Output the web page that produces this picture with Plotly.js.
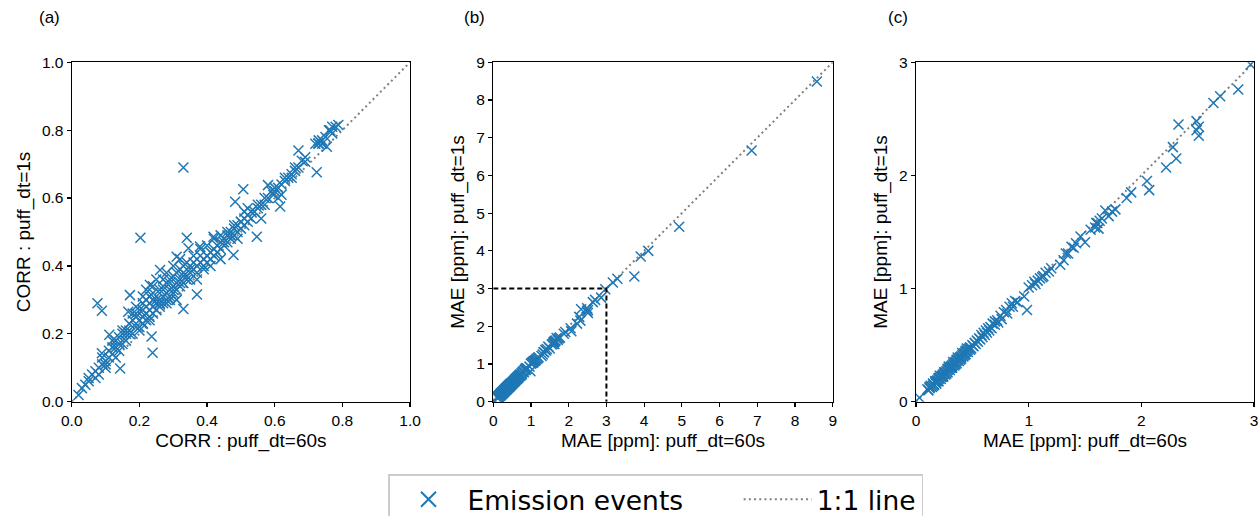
<!DOCTYPE html>
<html>
<head>
<meta charset="utf-8">
<script src="https://cdn.plot.ly/plotly-3.0.1.min.js"></script>
<style>html,body{margin:0;padding:0;background:#fff;}#chart{width:1259px;height:516px;}</style>
</head>
<body>
<div id="chart"></div>
<script>
// ---- Panel (a): CORR values ----
const corrX = [0.02,0.03,0.04,0.05,0.05,0.06,0.07,0.07,0.08,0.08,0.09,0.09,0.10,0.10,0.11,0.11,0.12,0.12,0.13,0.13,0.14,0.14,0.15,0.15,0.16,0.16,
  0.076,0.089,0.203,0.33,0.239,0.34,0.31,0.172,0.167,0.111,0.143,0.089,0.724,0.67,0.547,0.507,0.483,0.616,0.478,0.37,0.33,0.236,0.261,0.231,0.419,0.788,0.764,0.754,0.729,0.69,0.58,0.596,0.345,0.379,
  0.17,0.17,0.18,0.18,0.19,0.19,0.20,0.20,0.20,0.21,0.21,0.21,0.22,0.22,0.22,0.23,0.23,0.23,0.24,0.24,0.24,0.25,0.25,0.25,0.26,0.26,0.26,0.27,0.27,0.27,0.28,0.28,0.28,0.29,0.29,0.29,0.30,0.30,0.30,0.31,0.31,0.31,0.32,0.32,0.32,0.33,0.33,0.33,0.34,0.34,0.35,0.35,0.35,
  0.36,0.36,0.37,0.37,0.38,0.38,0.39,0.39,0.40,0.40,0.41,0.41,0.42,0.42,0.43,0.43,0.44,0.44,0.45,0.45,0.46,0.46,0.47,0.47,0.48,0.48,0.49,0.49,0.50,0.50,0.51,0.51,0.52,0.52,0.53,0.54,0.55,0.55,
  0.56,0.57,0.58,0.59,0.60,0.60,0.61,0.62,0.63,0.63,0.64,0.65,0.66,0.66,0.67,0.68,0.69,0.72,0.73,0.73,0.74,0.74,0.75,0.76,0.77,0.78,0.77,
  0.12,0.15,0.18,0.19,0.21,0.22,0.24,0.25,0.27,0.28,0.30,0.32,0.36,0.38,0.40,0.42,0.44,0.46,0.48,0.50,0.52,0.20,0.23,0.26,0.29,0.34,0.39,0.44,0.47,0.53,0.57,0.62,0.65,0.10,0.14,0.17,0.21,0.24,0.28,0.31,0.37,0.41,0.45,0.49,0.51,0.56,0.61,
  0.19,0.22,0.25,0.27,0.30,0.33,0.35,0.21,0.24,0.26,0.29,0.32,0.13,0.16];
const corrY = [0.02,0.04,0.05,0.07,0.06,0.08,0.07,0.09,0.10,0.08,0.11,0.13,0.12,0.10,0.13,0.15,0.14,0.16,0.16,0.13,0.17,0.19,0.17,0.20,0.18,0.21,
  0.29,0.268,0.483,0.69,0.144,0.483,0.427,0.314,0.265,0.197,0.098,0.143,0.676,0.74,0.486,0.626,0.589,0.575,0.432,0.316,0.273,0.192,0.388,0.344,0.486,0.815,0.80,0.751,0.761,0.707,0.638,0.609,0.452,0.457,
  0.21,0.23,0.20,0.24,0.22,0.26,0.24,0.27,0.22,0.25,0.29,0.23,0.26,0.30,0.24,0.27,0.31,0.25,0.28,0.32,0.26,0.29,0.30,0.27,0.30,0.33,0.28,0.31,0.34,0.29,0.32,0.35,0.30,0.33,0.36,0.31,0.34,0.37,0.32,0.35,0.38,0.33,0.36,0.39,0.34,0.37,0.40,0.35,0.37,0.41,0.38,0.40,0.36,
  0.39,0.41,0.40,0.38,0.41,0.43,0.42,0.40,0.43,0.41,0.44,0.42,0.45,0.43,0.46,0.44,0.47,0.45,0.48,0.46,0.49,0.47,0.50,0.48,0.51,0.49,0.52,0.50,0.53,0.51,0.54,0.52,0.55,0.53,0.56,0.56,0.57,0.58,
  0.58,0.60,0.60,0.62,0.62,0.63,0.63,0.64,0.65,0.66,0.66,0.67,0.68,0.69,0.69,0.71,0.72,0.76,0.76,0.77,0.76,0.77,0.78,0.80,0.81,0.81,0.79,
  0.18,0.21,0.26,0.28,0.31,0.33,0.34,0.36,0.36,0.38,0.40,0.42,0.43,0.45,0.46,0.48,0.49,0.50,0.52,0.53,0.57,0.21,0.24,0.29,0.30,0.36,0.39,0.42,0.49,0.54,0.58,0.61,0.66,0.11,0.15,0.20,0.23,0.30,0.29,0.30,0.36,0.40,0.47,0.48,0.56,0.54,0.60,
  0.25,0.28,0.27,0.33,0.33,0.38,0.39,0.27,0.30,0.29,0.35,0.35,0.18,0.20];

// ---- Panels (b) and (c): MAE values [ppm] ----
const maeX = [0.03,0.10,0.11,0.12,0.13,0.14,0.15,0.16,0.17,0.18,0.18,0.19,0.20,0.20,0.21,0.22,0.22,0.23,0.24,0.24,0.25,0.26,0.26,0.27,0.28,0.28,0.29,0.30,0.30,0.31,0.32,0.32,0.33,0.34,0.34,0.35,0.36,0.36,0.37,0.38,0.38,0.39,0.40,0.40,0.41,0.42,0.42,0.43,0.44,0.44,0.45,0.46,0.46,0.47,0.48,0.49,0.50,0.51,0.52,0.53,0.54,0.55,0.56,0.57,0.58,0.59,0.60,0.61,0.62,0.63,0.64,0.65,0.66,0.67,0.68,0.70,0.70,0.72,0.73,0.75,0.76,0.78,0.80,0.81,0.83,0.85,0.86,0.88,0.90,0.96,0.985,1.00,1.03,1.05,1.06,1.08,1.10,1.12,1.13,1.15,1.18,1.20,1.28,1.31,1.33,1.35,1.38,1.40,1.42,1.46,1.50,1.55,1.59,1.60,1.61,1.62,1.63,1.65,1.68,1.71,1.74,1.77,1.87,1.91,2.05,2.07,2.22,2.28,2.31,2.33,2.49,2.51,2.49,2.51,2.64,2.70,2.86,2.97,3.17,3.29,3.74,3.91,4.11,4.93,6.85,8.58,
  0.12,0.15,0.17,0.19,0.21,0.23,0.25,0.27,0.29,0.31,0.33,0.35,0.37,0.39,0.41,0.43,0.45,0.16,0.20,0.24,0.28,0.32,0.36,0.40,0.44,0.48];
const maeY = [0.035,0.11,0.10,0.12,0.14,0.13,0.16,0.15,0.17,0.18,0.16,0.19,0.20,0.18,0.21,0.22,0.20,0.23,0.24,0.22,0.25,0.26,0.24,0.27,0.28,0.26,0.29,0.30,0.28,0.31,0.32,0.30,0.33,0.34,0.32,0.35,0.36,0.34,0.37,0.38,0.36,0.39,0.40,0.38,0.41,0.42,0.40,0.43,0.44,0.42,0.45,0.46,0.44,0.47,0.48,0.47,0.50,0.49,0.52,0.51,0.54,0.53,0.56,0.55,0.59,0.57,0.61,0.59,0.63,0.61,0.65,0.63,0.66,0.65,0.69,0.71,0.68,0.72,0.70,0.76,0.73,0.79,0.81,0.78,0.84,0.87,0.84,0.89,0.88,0.93,0.81,1.01,1.03,1.06,1.04,1.07,1.09,1.10,1.11,1.14,1.15,1.18,1.21,1.25,1.31,1.31,1.37,1.36,1.40,1.46,1.41,1.52,1.54,1.58,1.58,1.53,1.60,1.62,1.69,1.64,1.68,1.70,1.80,1.85,1.95,1.87,2.07,2.25,2.15,2.45,2.48,2.43,2.40,2.35,2.64,2.70,2.76,2.98,3.16,3.26,3.32,3.85,4.00,4.64,6.66,8.49,
  0.13,0.14,0.18,0.18,0.23,0.22,0.26,0.25,0.31,0.30,0.35,0.33,0.39,0.37,0.43,0.41,0.47,0.15,0.21,0.23,0.29,0.31,0.37,0.39,0.45,0.46];

// 1:1 reference lines and the dashed 3 ppm box
const oneA = [0, 1];
const oneB = [0, 9];
const oneC = [0, 3];
const boxX = [0, 3, 3];
const boxY = [3, 3, 0];
const legendNames = ['Emission events', '1:1 line'];

const blue = '#1f77b4';
const mk = {symbol: 'x-thin-open', size: 10, color: blue, line: {color: blue, width: 1.5}};
const dotLine = {color: '#808080', width: 2, dash: '2px,3.2px'};
const NB = '\u00a0';

const traces = [
  {x: oneA, y: oneA, xaxis: 'x', yaxis: 'y', mode: 'lines', line: dotLine, showlegend: false},
  {x: oneB, y: oneB, xaxis: 'x2', yaxis: 'y2', mode: 'lines', line: dotLine, showlegend: false},
  {x: oneC, y: oneC, xaxis: 'x3', yaxis: 'y3', mode: 'lines', line: dotLine, showlegend: false},
  {x: corrX, y: corrY, xaxis: 'x', yaxis: 'y', mode: 'markers', marker: mk, showlegend: false},
  {x: maeX, y: maeY, xaxis: 'x2', yaxis: 'y2', mode: 'markers', marker: mk, showlegend: false},
  {x: maeX, y: maeY, xaxis: 'x3', yaxis: 'y3', mode: 'markers', marker: mk, showlegend: false},
  {x: boxX, y: boxY, xaxis: 'x2', yaxis: 'y2', mode: 'lines', line: {color: '#000', width: 2, dash: '5px,3px'}, showlegend: false},
  // legend-only entries (no data drawn)
  {x: [null], y: [null], xaxis: 'x', yaxis: 'y', mode: 'markers',
   marker: {symbol: 'x-thin-open', size: 15, color: blue, line: {color: blue, width: 2}},
   name: legendNames[0] + NB.repeat(6), showlegend: true},
  {x: [null], y: [null], xaxis: 'x', yaxis: 'y', mode: 'lines', line: dotLine, name: legendNames[1], showlegend: true}
];

const font = 'Liberation Sans, Arial, sans-serif';
function ax(domain, range, dtick, fmt, title, anchor) {
  return {
    domain: domain, range: range, dtick: dtick, tick0: 0, tickformat: fmt,
    showgrid: false, zeroline: false, showline: true, mirror: true,
    linecolor: '#000', linewidth: 1.2, ticks: 'outside', ticklen: 4, tickwidth: 1.2, tickcolor: '#000',
    tickfont: {family: font, size: 15.5, color: '#000'},
    title: {text: title, font: {family: font, size: 19, color: '#000'}, standoff: 6},
    anchor: anchor, fixedrange: true, automargin: false
  };
}
const yd = [0.2215, 0.8793];
const layout = {
  width: 1259, height: 516,
  margin: {l: 0, r: 0, t: 0, b: 0, autoexpand: false},
  paper_bgcolor: '#fff', plot_bgcolor: '#fff',
  xaxis: ax([0.057, 0.3257], [0, 1], 0.2, '.1f', 'CORR : puff_dt=60s', 'y'),
  yaxis: ax(yd, [0, 1], 0.2, '.1f', 'CORR : puff_dt=1s', 'x'),
  xaxis2: ax([0.3918, 0.6614], [0, 9], 1, 'd', 'MAE [ppm]: puff_dt=60s', 'y2'),
  yaxis2: ax(yd, [0, 9], 1, 'd', 'MAE [ppm]: puff_dt=1s', 'x2'),
  xaxis3: ax([0.7276, 0.996], [0, 3], 1, 'd', 'MAE [ppm]: puff_dt=60s', 'y3'),
  yaxis3: ax(yd, [0, 3], 1, 'd', 'MAE [ppm]: puff_dt=1s', 'x3'),
  showlegend: true,
  legend: {
    orientation: 'h', x: 388/1259, xanchor: 'left', y: 1 - 474/516, yanchor: 'top',
    bordercolor: '#cccccc', borderwidth: 1.5, bgcolor: '#fff',
    font: {family: 'DejaVu Sans, sans-serif', size: 26.5, color: '#000'},
    itemwidth: 68, tracegroupgap: 0, itemsizing: 'trace'
  },
  annotations: [
    {text: '(a)', x: 49/1259, y: 1 - 18/516, xref: 'paper', yref: 'paper', showarrow: false, xanchor: 'center', yanchor: 'middle', font: {family: font, size: 17, color: '#000'}},
    {text: '(b)', x: 474/1259, y: 1 - 18/516, xref: 'paper', yref: 'paper', showarrow: false, xanchor: 'center', yanchor: 'middle', font: {family: font, size: 17, color: '#000'}},
    {text: '(c)', x: 898/1259, y: 1 - 18/516, xref: 'paper', yref: 'paper', showarrow: false, xanchor: 'center', yanchor: 'middle', font: {family: font, size: 17, color: '#000'}}
  ]
};
Plotly.newPlot('chart', traces, layout, {displayModeBar: false, staticPlot: true});
</script>
</body>
</html>
